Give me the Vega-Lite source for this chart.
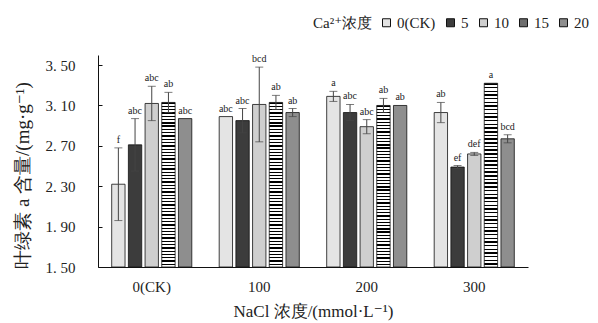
{
  "$schema": "https://vega.github.io/schema/vega-lite/v6.json",
  "autosize": {"type": "none"},
  "padding": {"left": 98, "top": 55, "right": 70, "bottom": 56},
  "width": 430,
  "height": 212,
  "background": "white",
  "config": {
    "font": "'Liberation Serif', 'DejaVu Serif', serif",
    "view": {"stroke": null},
    "text": {"font": "'Liberation Serif', 'DejaVu Serif', serif"},
    "legend": {"labelFont": "'Liberation Serif', 'DejaVu Serif', serif", "titleFont": "'Liberation Serif', 'DejaVu Serif', serif"},
    "axis": {"labelColor": "#222", "titleColor": "#222", "domainColor": "#111", "tickColor": "#111", "grid": false, "labelFont": "'Liberation Serif', 'DejaVu Serif', serif", "titleFont": "'Liberation Serif', 'DejaVu Serif', serif", "titleFontWeight": "normal"}
  },
  "data": {
    "values": [
      {"nacl": "0(CK)", "ca": "0(CK)", "v": 2.32, "e": 0.36, "sig": "f"},
      {"nacl": "0(CK)", "ca": "5", "v": 2.71, "e": 0.26, "sig": "abc"},
      {"nacl": "0(CK)", "ca": "10", "v": 3.12, "e": 0.17, "sig": "abc"},
      {"nacl": "0(CK)", "ca": "15", "v": 3.13, "e": 0.10, "sig": "ab"},
      {"nacl": "0(CK)", "ca": "20", "v": 2.97, "e": 0, "sig": "abc"},
      {"nacl": "100", "ca": "0(CK)", "v": 2.99, "e": 0, "sig": "abc"},
      {"nacl": "100", "ca": "5", "v": 2.95, "e": 0.12, "sig": "abc"},
      {"nacl": "100", "ca": "10", "v": 3.11, "e": 0.37, "sig": "bcd"},
      {"nacl": "100", "ca": "15", "v": 3.13, "e": 0.07, "sig": "ab"},
      {"nacl": "100", "ca": "20", "v": 3.03, "e": 0.04, "sig": "ab"},
      {"nacl": "200", "ca": "0(CK)", "v": 3.19, "e": 0.05, "sig": "a"},
      {"nacl": "200", "ca": "5", "v": 3.03, "e": 0.08, "sig": "abc"},
      {"nacl": "200", "ca": "10", "v": 2.89, "e": 0.07, "sig": "abc"},
      {"nacl": "200", "ca": "15", "v": 3.10, "e": 0.07, "sig": "ab"},
      {"nacl": "200", "ca": "20", "v": 3.10, "e": 0, "sig": "ab"},
      {"nacl": "300", "ca": "0(CK)", "v": 3.03, "e": 0.10, "sig": "ab"},
      {"nacl": "300", "ca": "5", "v": 2.49, "e": 0.015, "sig": "ef"},
      {"nacl": "300", "ca": "10", "v": 2.62, "e": 0.015, "sig": "def"},
      {"nacl": "300", "ca": "15", "v": 3.32, "e": 0, "sig": "a"},
      {"nacl": "300", "ca": "20", "v": 2.77, "e": 0.04, "sig": "bcd"}
    ]
  },
  "transform": [
    {"calculate": "datum.v + datum.e", "as": "hi"},
    {"calculate": "datum.v - datum.e", "as": "lo"}
  ],
  "encoding": {
    "x": {
      "field": "nacl", "type": "nominal", "sort": ["0(CK)", "100", "200", "300"],
      "scale": {"paddingInner": 0, "paddingOuter": 0},
      "axis": {"title": "NaCl 浓度/(mmol·L⁻¹)", "labelAngle": 0, "ticks": false, "labelPadding": 12, "labelFontSize": 15, "titleFontSize": 17, "titlePadding": 9, "domainWidth": 1}
    },
    "xOffset": {
      "field": "ca", "type": "nominal", "sort": ["0(CK)", "5", "10", "15", "20"],
      "scale": {"paddingInner": 0.2, "paddingOuter": 0.82}
    }
  },
  "layer": [
    {
      "mark": {"type": "bar", "stroke": "#111", "strokeWidth": 0.8},
      "encoding": {
        "y": {
          "field": "v", "type": "quantitative",
          "scale": {"domain": [1.5, 3.6], "zero": false, "nice": false},
          "axis": {"title": "叶绿素 a 含量/(mg·g⁻¹)", "values": [1.5, 1.9, 2.3, 2.7, 3.1, 3.5], "labelExpr": "replace(format(datum.value, '.2f'), '.', '. ')", "tickSize": -4, "labelPadding": 27, "labelFontSize": 15, "titleFontSize": 19, "titleX": -76, "titleY": 120, "titleAngle": -90, "titleAlign": "center", "titleBaseline": "middle", "domainWidth": 1}
        },
        "y2": {"datum": 1.5},
        "fill": {
          "condition": {
            "test": "datum.ca === '15'",
            "value": {
              "gradient": "linear", "x1": 0, "y1": 0, "x2": 0, "y2": 1,
              "stops": [
                {"offset": 0, "color": "#000"}, {"offset": 0.008, "color": "#000"}, {"offset": 0.008, "color": "#fff"}, {"offset": 0.02, "color": "#fff"},
                {"offset": 0.02, "color": "#000"}, {"offset": 0.028, "color": "#000"}, {"offset": 0.028, "color": "#fff"}, {"offset": 0.04, "color": "#fff"},
                {"offset": 0.04, "color": "#000"}, {"offset": 0.048, "color": "#000"}, {"offset": 0.048, "color": "#fff"}, {"offset": 0.06, "color": "#fff"},
                {"offset": 0.06, "color": "#000"}, {"offset": 0.068, "color": "#000"}, {"offset": 0.068, "color": "#fff"}, {"offset": 0.08, "color": "#fff"},
                {"offset": 0.08, "color": "#000"}, {"offset": 0.088, "color": "#000"}, {"offset": 0.088, "color": "#fff"}, {"offset": 0.10, "color": "#fff"},
                {"offset": 0.10, "color": "#000"}, {"offset": 0.108, "color": "#000"}, {"offset": 0.108, "color": "#fff"}, {"offset": 0.12, "color": "#fff"},
                {"offset": 0.12, "color": "#000"}, {"offset": 0.128, "color": "#000"}, {"offset": 0.128, "color": "#fff"}, {"offset": 0.14, "color": "#fff"},
                {"offset": 0.14, "color": "#000"}, {"offset": 0.148, "color": "#000"}, {"offset": 0.148, "color": "#fff"}, {"offset": 0.16, "color": "#fff"},
                {"offset": 0.16, "color": "#000"}, {"offset": 0.168, "color": "#000"}, {"offset": 0.168, "color": "#fff"}, {"offset": 0.18, "color": "#fff"},
                {"offset": 0.18, "color": "#000"}, {"offset": 0.188, "color": "#000"}, {"offset": 0.188, "color": "#fff"}, {"offset": 0.20, "color": "#fff"},
                {"offset": 0.20, "color": "#000"}, {"offset": 0.208, "color": "#000"}, {"offset": 0.208, "color": "#fff"}, {"offset": 0.22, "color": "#fff"},
                {"offset": 0.22, "color": "#000"}, {"offset": 0.228, "color": "#000"}, {"offset": 0.228, "color": "#fff"}, {"offset": 0.24, "color": "#fff"},
                {"offset": 0.24, "color": "#000"}, {"offset": 0.248, "color": "#000"}, {"offset": 0.248, "color": "#fff"}, {"offset": 0.26, "color": "#fff"},
                {"offset": 0.26, "color": "#000"}, {"offset": 0.268, "color": "#000"}, {"offset": 0.268, "color": "#fff"}, {"offset": 0.28, "color": "#fff"},
                {"offset": 0.28, "color": "#000"}, {"offset": 0.288, "color": "#000"}, {"offset": 0.288, "color": "#fff"}, {"offset": 0.30, "color": "#fff"},
                {"offset": 0.30, "color": "#000"}, {"offset": 0.308, "color": "#000"}, {"offset": 0.308, "color": "#fff"}, {"offset": 0.32, "color": "#fff"},
                {"offset": 0.32, "color": "#000"}, {"offset": 0.328, "color": "#000"}, {"offset": 0.328, "color": "#fff"}, {"offset": 0.34, "color": "#fff"},
                {"offset": 0.34, "color": "#000"}, {"offset": 0.348, "color": "#000"}, {"offset": 0.348, "color": "#fff"}, {"offset": 0.36, "color": "#fff"},
                {"offset": 0.36, "color": "#000"}, {"offset": 0.368, "color": "#000"}, {"offset": 0.368, "color": "#fff"}, {"offset": 0.38, "color": "#fff"},
                {"offset": 0.38, "color": "#000"}, {"offset": 0.388, "color": "#000"}, {"offset": 0.388, "color": "#fff"}, {"offset": 0.40, "color": "#fff"},
                {"offset": 0.40, "color": "#000"}, {"offset": 0.408, "color": "#000"}, {"offset": 0.408, "color": "#fff"}, {"offset": 0.42, "color": "#fff"},
                {"offset": 0.42, "color": "#000"}, {"offset": 0.428, "color": "#000"}, {"offset": 0.428, "color": "#fff"}, {"offset": 0.44, "color": "#fff"},
                {"offset": 0.44, "color": "#000"}, {"offset": 0.448, "color": "#000"}, {"offset": 0.448, "color": "#fff"}, {"offset": 0.46, "color": "#fff"},
                {"offset": 0.46, "color": "#000"}, {"offset": 0.468, "color": "#000"}, {"offset": 0.468, "color": "#fff"}, {"offset": 0.48, "color": "#fff"},
                {"offset": 0.48, "color": "#000"}, {"offset": 0.488, "color": "#000"}, {"offset": 0.488, "color": "#fff"}, {"offset": 0.50, "color": "#fff"},
                {"offset": 0.50, "color": "#000"}, {"offset": 0.508, "color": "#000"}, {"offset": 0.508, "color": "#fff"}, {"offset": 0.52, "color": "#fff"},
                {"offset": 0.52, "color": "#000"}, {"offset": 0.528, "color": "#000"}, {"offset": 0.528, "color": "#fff"}, {"offset": 0.54, "color": "#fff"},
                {"offset": 0.54, "color": "#000"}, {"offset": 0.548, "color": "#000"}, {"offset": 0.548, "color": "#fff"}, {"offset": 0.56, "color": "#fff"},
                {"offset": 0.56, "color": "#000"}, {"offset": 0.568, "color": "#000"}, {"offset": 0.568, "color": "#fff"}, {"offset": 0.58, "color": "#fff"},
                {"offset": 0.58, "color": "#000"}, {"offset": 0.588, "color": "#000"}, {"offset": 0.588, "color": "#fff"}, {"offset": 0.60, "color": "#fff"},
                {"offset": 0.60, "color": "#000"}, {"offset": 0.608, "color": "#000"}, {"offset": 0.608, "color": "#fff"}, {"offset": 0.62, "color": "#fff"},
                {"offset": 0.62, "color": "#000"}, {"offset": 0.628, "color": "#000"}, {"offset": 0.628, "color": "#fff"}, {"offset": 0.64, "color": "#fff"},
                {"offset": 0.64, "color": "#000"}, {"offset": 0.648, "color": "#000"}, {"offset": 0.648, "color": "#fff"}, {"offset": 0.66, "color": "#fff"},
                {"offset": 0.66, "color": "#000"}, {"offset": 0.668, "color": "#000"}, {"offset": 0.668, "color": "#fff"}, {"offset": 0.68, "color": "#fff"},
                {"offset": 0.68, "color": "#000"}, {"offset": 0.688, "color": "#000"}, {"offset": 0.688, "color": "#fff"}, {"offset": 0.70, "color": "#fff"},
                {"offset": 0.70, "color": "#000"}, {"offset": 0.708, "color": "#000"}, {"offset": 0.708, "color": "#fff"}, {"offset": 0.72, "color": "#fff"},
                {"offset": 0.72, "color": "#000"}, {"offset": 0.728, "color": "#000"}, {"offset": 0.728, "color": "#fff"}, {"offset": 0.74, "color": "#fff"},
                {"offset": 0.74, "color": "#000"}, {"offset": 0.748, "color": "#000"}, {"offset": 0.748, "color": "#fff"}, {"offset": 0.76, "color": "#fff"},
                {"offset": 0.76, "color": "#000"}, {"offset": 0.768, "color": "#000"}, {"offset": 0.768, "color": "#fff"}, {"offset": 0.78, "color": "#fff"},
                {"offset": 0.78, "color": "#000"}, {"offset": 0.788, "color": "#000"}, {"offset": 0.788, "color": "#fff"}, {"offset": 0.80, "color": "#fff"},
                {"offset": 0.80, "color": "#000"}, {"offset": 0.808, "color": "#000"}, {"offset": 0.808, "color": "#fff"}, {"offset": 0.82, "color": "#fff"},
                {"offset": 0.82, "color": "#000"}, {"offset": 0.828, "color": "#000"}, {"offset": 0.828, "color": "#fff"}, {"offset": 0.84, "color": "#fff"},
                {"offset": 0.84, "color": "#000"}, {"offset": 0.848, "color": "#000"}, {"offset": 0.848, "color": "#fff"}, {"offset": 0.86, "color": "#fff"},
                {"offset": 0.86, "color": "#000"}, {"offset": 0.868, "color": "#000"}, {"offset": 0.868, "color": "#fff"}, {"offset": 0.88, "color": "#fff"},
                {"offset": 0.88, "color": "#000"}, {"offset": 0.888, "color": "#000"}, {"offset": 0.888, "color": "#fff"}, {"offset": 0.90, "color": "#fff"},
                {"offset": 0.90, "color": "#000"}, {"offset": 0.908, "color": "#000"}, {"offset": 0.908, "color": "#fff"}, {"offset": 0.92, "color": "#fff"},
                {"offset": 0.92, "color": "#000"}, {"offset": 0.928, "color": "#000"}, {"offset": 0.928, "color": "#fff"}, {"offset": 0.94, "color": "#fff"},
                {"offset": 0.94, "color": "#000"}, {"offset": 0.948, "color": "#000"}, {"offset": 0.948, "color": "#fff"}, {"offset": 0.96, "color": "#fff"},
                {"offset": 0.96, "color": "#000"}, {"offset": 0.968, "color": "#000"}, {"offset": 0.968, "color": "#fff"}, {"offset": 0.98, "color": "#fff"},
                {"offset": 0.98, "color": "#000"}, {"offset": 0.988, "color": "#000"}, {"offset": 0.988, "color": "#fff"}, {"offset": 1, "color": "#fff"}
              ]
            }
          },
          "field": "ca", "type": "nominal", "sort": ["0(CK)", "5", "10", "15", "20"],
          "scale": {"domain": ["0(CK)", "5", "10", "15", "20"], "range": ["#e4e4e4", "#3c3c3c", "#cfcfcf", "#6e6e6e", "#8e8e8e"]},
          "legend": {
            "title": "Ca²⁺浓度", "orient": "none", "legendX": 215, "legendY": -40, "direction": "horizontal", "columns": 5,
            "titleOrient": "left", "titleFontSize": 15, "titleFontWeight": "normal", "titleColor": "#222", "titlePadding": 6,
            "labelFontSize": 15, "labelColor": "#222", "labelOffset": 3, "columnPadding": 7,
            "symbolType": "square", "symbolSize": 64, "symbolStrokeColor": "#111", "symbolStrokeWidth": 1, "symbolOpacity": 1
          }
        }
      }
    },
    {
      "transform": [{"filter": "datum.e > 0"}],
      "mark": {"type": "rule", "color": "#444", "strokeWidth": 1},
      "encoding": {
        "y": {"field": "lo", "type": "quantitative"},
        "y2": {"field": "hi"}
      }
    },
    {
      "transform": [{"filter": "datum.e > 0"}],
      "mark": {"type": "tick", "color": "#444", "size": 8, "thickness": 1, "orient": "horizontal"},
      "encoding": {"y": {"field": "hi", "type": "quantitative"}}
    },
    {
      "transform": [{"filter": "datum.e > 0"}],
      "mark": {"type": "tick", "color": "#444", "size": 8, "thickness": 1, "orient": "horizontal"},
      "encoding": {"y": {"field": "lo", "type": "quantitative"}}
    },
    {
      "mark": {"type": "text", "baseline": "bottom", "dy": -3, "fontSize": 10, "color": "#222"},
      "encoding": {
        "y": {"field": "hi", "type": "quantitative"},
        "text": {"field": "sig"}
      }
    }
  ]
}
